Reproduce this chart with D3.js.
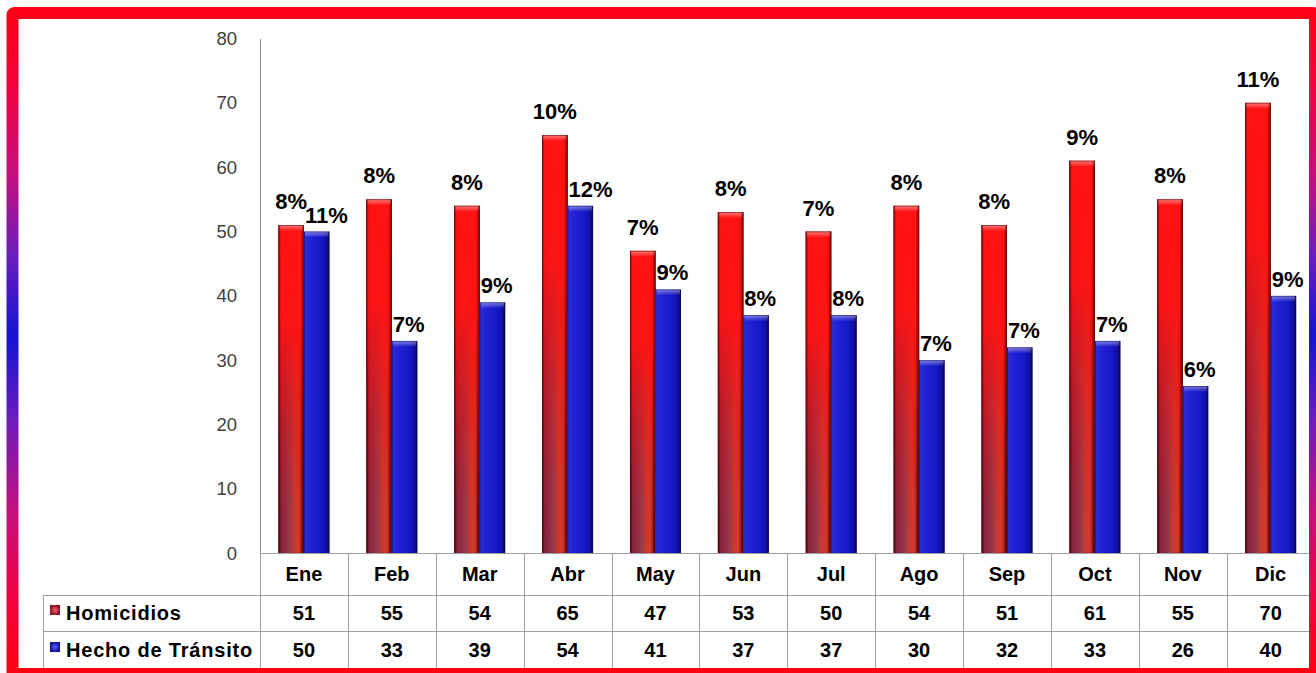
<!DOCTYPE html>
<html><head><meta charset="utf-8">
<script src="https://cdn.jsdelivr.net/npm/d3@7"></script>
<style>
body{margin:0;background:#fff;}
svg{display:block;font-family:"Liberation Sans",Arial,sans-serif;}
</style>
</head><body>
<svg id="c" width="1316" height="673"></svg>
<script>
const months = ["Ene","Feb","Mar","Abr","May","Jun","Jul","Ago","Sep","Oct","Nov","Dic"];
const homicidios = [51,55,54,65,47,53,50,54,51,61,55,70];
const transito = [50,33,39,54,41,37,37,30,32,33,26,40];
const pctHomicidios = ["8%","8%","8%","10%","7%","8%","7%","8%","8%","9%","8%","11%"];
const pctTransito = ["11%","7%","9%","12%","9%","8%","8%","7%","7%","7%","6%","9%"];
const yTicks = [0,10,20,30,40,50,60,70,80];
const seriesNames = ["Homicidios","Hecho de Tránsito"];

const svg = d3.select("#c");
const defs = svg.append("defs");

function lin(id, stops, vertical, user){
  const g = defs.append("linearGradient").attr("id", id)
    .attr("x1",0).attr("y1",0).attr("x2",vertical?0:1).attr("y2",vertical?1:0);
  if(user){ g.attr("gradientUnits","userSpaceOnUse").attr("x1",0).attr("x2",0).attr("y1",0).attr("y2",673); }
  stops.forEach(s=>g.append("stop").attr("offset",s[0]).attr("stop-color",s[1]).attr("stop-opacity",s[2]==null?1:s[2]));
}
lin("redBase",[[0,"#5a0a1e"],[0.1,"#86203c"],[0.45,"#953a4c"],[0.62,"#c83a30"],[0.8,"#d23a2a"],[0.92,"#a01818"],[1,"#4a0606"]]);
lin("redTop",[[0,"#ff1212",1],[0.3,"#ff1212",0.95],[0.6,"#f01010",0.45],[0.85,"#e01010",0.1],[1,"#e01010",0]],true);
lin("edges",[[0,"#200000",0.55],[0.1,"#200000",0],[0.86,"#200000",0],[1,"#200000",0.6]]);
lin("blueBase",[[0,"#2c2cd6"],[0.3,"#2020d4"],[0.7,"#1616c4"],[0.88,"#1010a0"],[1,"#06064a"]]);
lin("capShine",[[0,"#ffffff",0.45],[1,"#ffffff",0]],true);
lin("frame",[[0,"#ff0010"],[0.12,"#f5003a"],[0.26,"#c4107e"],[0.38,"#6a1cbc"],[0.5,"#1414d2"],[0.62,"#6a1cbc"],[0.76,"#c4107e"],[0.9,"#f5003a"],[1,"#ff0010"]],true,true);
const rm = defs.append("radialGradient").attr("id","redMark");
rm.append("stop").attr("offset",0).attr("stop-color","#f06070");
rm.append("stop").attr("offset",1).attr("stop-color","#8a1020");
const bm = defs.append("radialGradient").attr("id","blueMark");
bm.append("stop").attr("offset",0).attr("stop-color","#6060ff");
bm.append("stop").attr("offset",1).attr("stop-color","#10109a");

const x = d3.scaleBand().domain(months).range([260, 1314.6]).padding(0);
const barW = 25.5;
const xs = d3.scaleBand().domain([0,1]).range([x.bandwidth()/2 - barW, x.bandwidth()/2 + barW]).padding(0);
const y = d3.scaleLinear().domain([0,80]).range([553.3, 38.5]);

const ax = svg.append("g").attr("transform","translate(260,0)")
  .call(d3.axisLeft(y).tickValues(yTicks).tickSize(0).tickSizeOuter(0).tickPadding(23));
ax.select(".domain").attr("stroke","#8c8c8c");
ax.selectAll("text").attr("font-size",18.5).attr("fill","#404040").attr("font-family","Liberation Sans, Arial, sans-serif");

const groups = svg.append("g").selectAll("g").data(months).join("g")
  .attr("transform", d=>`translate(${x(d)},0)`);

groups.each(function(m,i){
  const g = d3.select(this);
  const rx = xs(0), ry = y(homicidios[i]), rh = y(0)-ry;
  g.append("rect").attr("x",rx).attr("y",ry).attr("width",barW).attr("height",rh).attr("fill","url(#redBase)");
  g.append("rect").attr("x",rx).attr("y",ry).attr("width",barW).attr("height",rh).attr("fill","url(#redTop)");
  g.append("rect").attr("x",rx).attr("y",ry).attr("width",barW).attr("height",rh).attr("fill","url(#edges)");
  g.append("rect").attr("x",rx+1).attr("y",ry).attr("width",barW-2).attr("height",6).attr("fill","url(#capShine)");
  g.append("rect").attr("x",rx+0.4).attr("y",ry+0.4).attr("width",barW-0.8).attr("height",rh-0.4).attr("fill","none").attr("stroke","#6a0a0a").attr("stroke-width",0.8).attr("stroke-opacity",0.7);
  const bx = xs(1), by = y(transito[i]), bh = y(0)-by;
  g.append("rect").attr("x",bx).attr("y",by).attr("width",barW).attr("height",bh).attr("fill","url(#blueBase)");
  g.append("rect").attr("x",bx+1).attr("y",by).attr("width",barW-2).attr("height",6).attr("fill","url(#capShine)");
  g.append("rect").attr("x",bx+0.4).attr("y",by+0.4).attr("width",barW-0.8).attr("height",bh-0.4).attr("fill","none").attr("stroke","#0a0a60").attr("stroke-width",0.8).attr("stroke-opacity",0.6);
  g.append("text").attr("x",rx+barW/2).attr("y",ry-16).attr("text-anchor","middle")
    .attr("font-size",22).attr("font-weight","bold").attr("fill","#000").text(pctHomicidios[i]);
  g.append("text").attr("x",bx+1).attr("y",by-9).attr("text-anchor","start")
    .attr("font-size",22).attr("font-weight","bold").attr("fill","#000").text(pctTransito[i]);
});

const tbl = svg.append("g");
const lineC = "#a0a0a0";
tbl.append("line").attr("x1",260).attr("x2",1316).attr("y1",553.5).attr("y2",553.5).attr("stroke",lineC);
tbl.append("line").attr("x1",43).attr("x2",1316).attr("y1",595.5).attr("y2",595.5).attr("stroke",lineC);
tbl.append("line").attr("x1",43).attr("x2",1316).attr("y1",631.5).attr("y2",631.5).attr("stroke",lineC);
tbl.append("line").attr("x1",43.5).attr("x2",43.5).attr("y1",595).attr("y2",668).attr("stroke",lineC);
tbl.selectAll("line.v").data(months).join("line").attr("class","v")
  .attr("x1",d=>Math.round(x(d))+0.5).attr("x2",d=>Math.round(x(d))+0.5)
  .attr("y1",553).attr("y2",668).attr("stroke",lineC);

const tFont = {size:20, weight:"bold"};
tbl.selectAll("text.m").data(months).join("text").attr("class","m")
  .attr("x",d=>x(d)+x.bandwidth()/2).attr("y",581).attr("text-anchor","middle")
  .attr("font-size",tFont.size).attr("font-weight",tFont.weight).attr("fill","#000").text(d=>d);
tbl.selectAll("text.h").data(homicidios).join("text").attr("class","h")
  .attr("x",(d,i)=>x(months[i])+x.bandwidth()/2).attr("y",620).attr("text-anchor","middle")
  .attr("font-size",tFont.size).attr("font-weight",tFont.weight).attr("fill","#000").text(d=>d);
tbl.selectAll("text.t").data(transito).join("text").attr("class","t")
  .attr("x",(d,i)=>x(months[i])+x.bandwidth()/2).attr("y",657).attr("text-anchor","middle")
  .attr("font-size",tFont.size).attr("font-weight",tFont.weight).attr("fill","#000").text(d=>d);

const legY = [620, 657];
const markFill = ["url(#redMark)","url(#blueMark)"];
seriesNames.forEach((n,k)=>{
  tbl.append("rect").attr("x",50).attr("y",legY[k]-15).attr("width",10).attr("height",10).attr("fill",markFill[k]);
  tbl.append("text").attr("x",66).attr("y",legY[k]).attr("font-size",tFont.size).attr("font-weight",tFont.weight)
    .attr("letter-spacing",0.8).attr("fill","#000").text(n);
});

svg.append("rect").attr("x",12.5).attr("y",13).attr("width",1302.5).attr("height",661).attr("rx",2)
  .attr("fill","none").attr("stroke","url(#frame)").attr("stroke-width",12);
</script>
</body></html>
